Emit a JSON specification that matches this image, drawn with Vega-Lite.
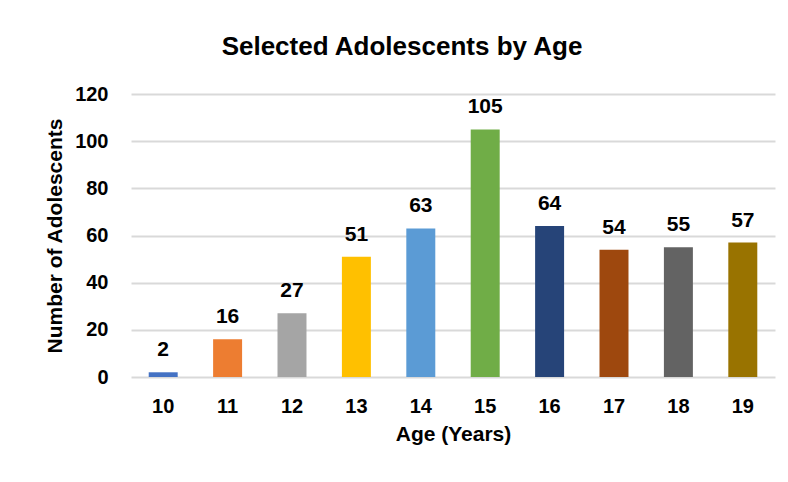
{
  "$schema": "https://vega.github.io/schema/vega-lite/v6.json",
  "width": 644,
  "height": 283,
  "autosize": {"type": "none"},
  "padding": {"left": 131, "top": 94, "right": 13, "bottom": 105},
  "background": "white",
  "config": {
    "view": {"stroke": null},
    "font": "Liberation Sans, Arial"
  },
  "title": {
    "text": "Selected Adolescents by Age",
    "fontSize": 26,
    "fontWeight": "bold",
    "color": "#000000",
    "anchor": "middle",
    "offset": 24,
    "dx": -51
  },
  "data": {
    "values": [
      {"age": "10", "count": 2},
      {"age": "11", "count": 16},
      {"age": "12", "count": 27},
      {"age": "13", "count": 51},
      {"age": "14", "count": 63},
      {"age": "15", "count": 105},
      {"age": "16", "count": 64},
      {"age": "17", "count": 54},
      {"age": "18", "count": 55},
      {"age": "19", "count": 57}
    ]
  },
  "encoding": {
    "x": {
      "field": "age",
      "type": "nominal",
      "sort": null,
      "scale": {"paddingInner": 0.55, "paddingOuter": 0.275},
      "axis": {
        "title": "Age (Years)",
        "labelAngle": 0,
        "labelFontSize": 20,
        "labelFontWeight": "bold",
        "labelColor": "#000000",
        "labelPadding": 19,
        "ticks": false,
        "domain": false,
        "titleFontSize": 21,
        "titleFontWeight": "bold",
        "titleColor": "#000000",
        "titlePadding": 7
      }
    },
    "y": {
      "field": "count",
      "type": "quantitative",
      "scale": {"domain": [0, 120]},
      "axis": {
        "title": "Number of Adolescents",
        "values": [0, 20, 40, 60, 80, 100, 120],
        "labelFontSize": 20,
        "labelFontWeight": "bold",
        "labelColor": "#000000",
        "labelPadding": 23,
        "ticks": false,
        "domain": false,
        "grid": true,
        "gridColor": "#d9d9d9",
        "gridWidth": 2,
        "titleFontSize": 21,
        "titleFontWeight": "bold",
        "titleColor": "#000000",
        "titlePadding": 9
      }
    }
  },
  "layer": [
    {
      "mark": {"type": "bar"},
      "encoding": {
        "color": {
          "field": "age",
          "type": "nominal",
          "sort": null,
          "scale": {
            "range": ["#4472C4", "#ED7D31", "#A5A5A5", "#FFC000", "#5B9BD5", "#70AD47", "#264478", "#9E480E", "#636363", "#997300"]
          },
          "legend": null
        }
      }
    },
    {
      "mark": {"type": "text", "baseline": "alphabetic", "dy": -16, "fontSize": 21, "fontWeight": "bold", "color": "#000000"},
      "encoding": {"text": {"field": "count", "type": "quantitative"}}
    }
  ]
}
